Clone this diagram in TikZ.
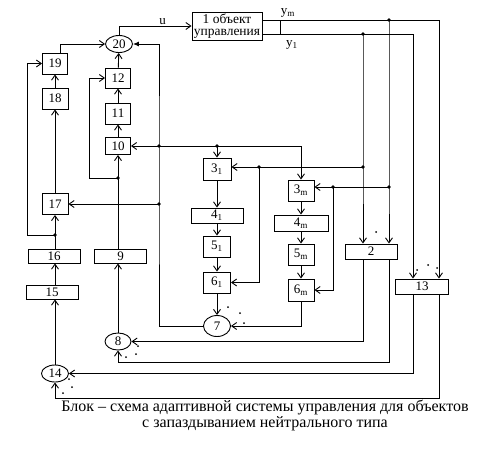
\documentclass[tikz,border=0pt]{standalone}
\usepackage{fontspec}
\setmainfont{Liberation Serif}
\usetikzlibrary{arrows.meta,shapes.geometric}

\begin{document}
\begin{tikzpicture}[x=1pt,y=-1pt,>={Straight Barb[length=5pt,width=7pt]},line width=0.9pt]
\tikzstyle{blk}=[rectangle,draw,inner sep=0pt,font=\fontsize{13}{13}\selectfont,minimum width=26pt,minimum height=21pt]
\tikzstyle{wide}=[blk,minimum width=52pt,minimum height=15pt]
\tikzstyle{sum}=[ellipse,draw,inner sep=0pt,font=\fontsize{13}{13}\selectfont,minimum width=27pt,minimum height=17pt]
\tikzstyle{lbl}=[inner sep=1pt,font=\fontsize{13}{13}\selectfont]

\useasboundingbox (0,0) rectangle (492,453);

% Plant
\node[blk,align=center,minimum width=70pt,minimum height=28pt,font=\fontsize{13.5}{12.5}\selectfont] (B1) at (227,26) {1 объект\\управления};
\node[lbl] (lym) at (288,13) {y\textsubscript{m}};
\node[lbl] (ly1) at (292,45) {y\textsubscript{1}};

% Left branch
\node[sum] (C20) at (119,44) {20};
\node[blk,minimum width=25pt] (B19) at (55,63.5) {19};
\node[blk] (B18) at (55,98.5) {18};
\node[blk] (B17) at (55,204) {17};
\node[wide,minimum height=14pt] (B16) at (54,256) {16};
\node[wide,minimum height=14pt] (B15) at (52,292) {15};
\node[sum] (C14) at (55,373.5) {14};

% Middle branch
\node[blk,minimum width=25pt,minimum height=20pt] (B12) at (118,78) {12};
\node[blk,minimum width=25pt] (B11) at (118,113.5) {11};
\node[blk,minimum width=25pt,minimum height=17pt] (B10) at (118,146) {10};
\node[wide,minimum height=14pt] (B9) at (120.5,256) {9};
\node[sum,minimum width=26pt] (C8) at (118,341.5) {8};

% Channel 1
\node[blk,minimum width=28pt,minimum height=22pt] (B31) at (217,169) {3\textsubscript{1}};
\node[wide] (B41) at (217,215.5) {4\textsubscript{1}};
\node[blk,minimum width=27pt] (B51) at (217,246.5) {5\textsubscript{1}};
\node[blk,minimum width=27pt] (B61) at (217,282.5) {6\textsubscript{1}};
\node[sum,minimum height=21pt] (C7) at (217,326) {7};

% Channel m
\node[blk] (B3m) at (301,190.5) {3\textsubscript{m}};
\node[wide,minimum width=54pt,minimum height=16pt] (B4m) at (301,223) {4\textsubscript{m}};
\node[blk] (B5m) at (301,254.5) {5\textsubscript{m}};
\node[blk,minimum height=22pt] (B6m) at (301,290) {6\textsubscript{m}};

% Right blocks
\node[wide] (B2) at (371,251.5) {2};
\node[wide,minimum width=53pt] (B13) at (422,286.5) {13};

% Caption
\node[align=center,font=\fontsize{16}{16}\selectfont] (cap) at (265,415) {Блок – схема адаптивной системы управления для объектов\\с запаздыванием нейтрального типа};

% Junctions
\coordinate (dym) at (389,20);
\coordinate (dy1) at (363,34);
\coordinate (d3a) at (363,167);
\coordinate (d3b) at (389,187);
\coordinate (d61) at (259,167);
\coordinate (d6m) at (333,187);
\coordinate (d10) at (159,146);
\coordinate (d17) at (159,204);
\coordinate (d31) at (217,146);
\coordinate (d9) at (118,178);
\coordinate (d16) at (55,235);

% Plant input and outputs
\draw[->] (C20.north) |- node[lbl,above,pos=0.8] {u} (B1.west);
\draw[->] ([yshift=6pt]B1.east) -| ([xshift=17pt]B13.north);
\draw[->] ([yshift=-8pt]B1.east) -| ([xshift=-9pt]B13.north);
\draw[line width=0.4pt] (280,20) -- (280,34);
\draw[->] (dym) -- (d3b) -- ([xshift=18pt]B2.north);
\draw[->] (dy1) -- (d3a) -- ([xshift=-8pt]B2.north);

% Feeds to channels
\draw[->] (d3a) -- (d3a -| B31.east);
\draw[->] (d61) |- (B61.east);
\draw[->] (d3b) -- (d3b -| B3m.east);
\draw[->] (d6m) |- (B6m.east);

% Channel chains
\draw[->] (B31) -- (B41);
\draw[->] (B41) -- (B51);
\draw[->] (B51) -- (B61);
\draw[->] (B61) -- (C7);
\draw[->] (B3m) -- (B4m);
\draw[->] (B4m) -- (B5m);
\draw[->] (B5m) -- (B6m);
\draw[->] (B6m.south) |- (C7.east);

% Feedback from 7
\draw[-{Latex[length=6pt,width=5pt]}] (C7.west) -| (d17) -- (d10) |- (C20.east);
\draw[->] (d17) -- (d17 -| B17.east);
\draw[->] (d10) -- (B10.east);
\draw (d10) -- (d31);
\draw[->] (d31) -- (B31.north);
\draw[->] (d31) -| (B3m.north);

% Middle branch
\draw[->] (C8) -- (C8 |- B9.south);
\draw (C8 |- B9.north) -- (d9);
\draw[->] (d9) -- (B10);
\draw[->] (B10) -- (B11);
\draw[->] (B11) -- (B12);
\draw[->] (B12) -- (C20);
\draw[->] (d9) -| ([xshift=-16pt]B12.west) -- (B12.west);

% Left branch
\draw[->] (C14) -- (C14 |- B15.south);
\draw[->] (C14 |- B15.north) -- (C14 |- B16.south);
\draw (C14 |- B16.north) -- (d16);
\draw[->] (d16) -- (B17);
\draw[->] (B17) -- (B18);
\draw[->] (B18) -- (B19);
\draw[->] (d16) -| ([xshift=-15pt]B19.west) -- (B19.west);
\draw[->] ([xshift=5pt]B19.north) |- (C20.west);

% Outputs of 2 and 13
\draw[->] ([xshift=-8pt]B2.south) |- (C8.east);
\draw[->] ([xshift=18pt]B2.south) |- ([yshift=-12pt]C8.south) -- (C8.south);
\draw[->] ([xshift=-9pt]B13.south) |- (C14.east);
\draw[->] ([xshift=17pt]B13.south) |- ([yshift=-16pt]C14.south) -- (C14.south);

% Dots
\fill (dym) circle[radius=1.9pt] (dy1) circle[radius=1.9pt] (d3a) circle[radius=1.9pt]
  (d3b) circle[radius=1.9pt] (d61) circle[radius=1.9pt] (d6m) circle[radius=1.9pt]
  (d10) circle[radius=1.9pt] (d17) circle[radius=1.9pt] (d31) circle[radius=1.9pt]
  (d9) circle[radius=1.9pt] (d16) circle[radius=1.9pt];
\fill (228,307) circle[radius=1pt] (240,313) circle[radius=1pt] (244,323) circle[radius=1pt]
  (376,232) circle[radius=1pt]
  (417,270) circle[radius=1pt] (428,265) circle[radius=1pt] (437,268) circle[radius=1pt]
  (138,346) circle[radius=1pt] (136,354) circle[radius=1pt] (126,357) circle[radius=1pt]
  (69,379) circle[radius=1pt] (72,387) circle[radius=1pt] (63,393) circle[radius=1pt];
\end{tikzpicture}
\end{document}
